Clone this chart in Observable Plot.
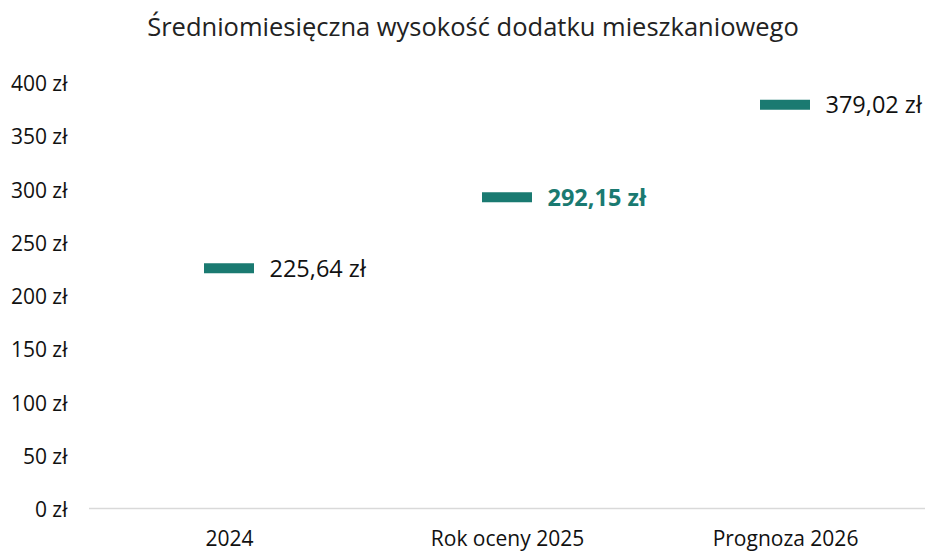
<!DOCTYPE html>
<html><head><meta charset="utf-8">
<script src="https://cdn.jsdelivr.net/npm/d3@7"></script>
<script src="https://cdn.jsdelivr.net/npm/@observablehq/plot@0.6"></script>
<style>
body{margin:0;background:#fff;font-family:"Open Sans",sans-serif;}
#title{height:48px;line-height:52px;font-size:25.5px;color:#222;text-align:center;padding-left:19px;width:908px;white-space:nowrap;overflow:visible;}
</style></head>
<body>
<div id="title">Średniomiesięczna wysokość dodatku mieszkaniowego</div>
<div id="chart"></div>
<script>
const categories = ["2024", "Rok oceny 2025", "Prognoza 2026"];
const values = [225.64, 292.15, 379.02];
const highlighted = [false, true, false];
const yTicks = [0, 50, 100, 150, 200, 250, 300, 350, 400];

const data = categories.map((c, i) => ({cat: c, value: values[i], hl: highlighted[i]}));
const fmt = v => v.toFixed(2).replace(".", ",") + " zł";
const teal = "#1a7a71";

const chart = Plot.plot({
  width: 927,
  height: 503,
  marginTop: 34,
  marginBottom: 43,
  marginLeft: 89,
  marginRight: 2,
  style: {fontFamily: "'Open Sans', sans-serif", fontSize: "21px", color: "#111", background: "#fff", overflow: "visible"},
  x: {domain: categories, padding: 0, label: null},
  y: {domain: [0, 400], label: null},
  marks: [
    Plot.axisY({ticks: yTicks, tickSize: 0, tickPadding: 22, dy: 2, tickFormat: d => d + " zł", label: null, fontSize: 21}),
    Plot.axisX({tickSize: 0, tickPadding: 23, label: null, fontSize: 21}),
    Plot.ruleY([0], {stroke: "#d9d9d9", strokeWidth: 1.5}),
    Plot.tickY(data, {x: "cat", y: "value", stroke: teal, strokeWidth: 10, insetLeft: 114, insetRight: 114}),
    Plot.text(data.filter(d => !d.hl), {x: "cat", y: "value", text: d => fmt(d.value), dx: 40, dy: 1, textAnchor: "start", fill: "#111", fontSize: 23.5}),
    Plot.text(data.filter(d => d.hl), {x: "cat", y: "value", text: d => fmt(d.value), dx: 40, dy: 1, textAnchor: "start", fill: teal, fontSize: 23.5, fontWeight: "bold"})
  ]
});
document.getElementById("chart").appendChild(chart);
</script>
</body></html>
